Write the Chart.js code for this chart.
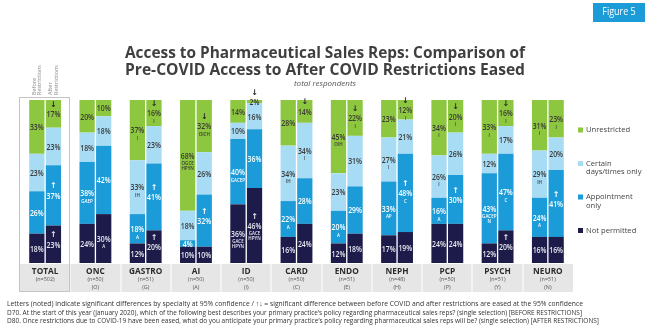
<!DOCTYPE html>
<html>
<head>
<meta charset="utf-8">
<script src="https://cdn.jsdelivr.net/npm/chart.js@4.4.1/dist/chart.umd.min.js"></script>
<style>
  html, body { margin: 0; padding: 0; background: #fff; }
  #wrap { width: 650px; height: 334px; position: relative; }
</style>
</head>
<body>
<div id="wrap"><canvas id="chart" width="650" height="334"></canvas></div>
<script>
const categories = ["TOTAL", "ONC", "GASTRO", "AI", "ID", "CARD", "ENDO", "NEPH", "PCP", "PSYCH", "NEURO"];
const sampleSizes = ["(n=502)", "(n=50)", "(n=51)", "(n=50)", "(n=50)", "(n=50)", "(n=51)", "(n=48)", "(n=50)", "(n=51)", "(n=51)"];
const specialtyCodes = ["", "(O)", "(G)", "(A)", "(I)", "(C)", "(E)", "(H)", "(P)", "(Y)", "(N)"];

// Before restrictions (January 2020), % of respondents
const beforeNotPermitted = [18, 24, 12, 10, 36, 16, 12, 17, 24, 12, 16];
const beforeAppointment = [26, 38, 18, 4, 40, 22, 20, 33, 16, 43, 24];
const beforeCertain = [23, 18, 33, 18, 10, 34, 23, 27, 26, 12, 29];
const beforeUnrestricted = [33, 20, 37, 68, 14, 28, 45, 23, 34, 33, 31];

// After restrictions are eased
const afterNotPermitted = [23, 30, 20, 10, 46, 24, 18, 19, 24, 20, 16];
const afterAppointment = [37, 42, 41, 32, 36, 28, 29, 48, 30, 47, 41];
const afterCertain = [23, 18, 23, 26, 16, 34, 31, 21, 26, 17, 20];
const afterUnrestricted = [17, 10, 16, 32, 2, 14, 22, 12, 20, 16, 23];

// significance letters under each value
const beforeNotPermittedNotes = ["", "", "", "", "GACE\nHPYN", "", "", "", "", "", ""];
const beforeAppointmentNotes = ["", "GAEP", "A", "", "GACEP", "A", "A", "AP", "A", "GACEP\nN", "A"];
const beforeCertainNotes = ["", "", "IH", "", "", "IH", "", "I", "I", "", "IH"];
const beforeUnrestrictedNotes = ["", "", "I", "OGCE\nHPYN", "", "", "OIH", "", "I", "I", "I"];
const afterNotPermittedNotes = ["", "A", "", "", "GACE\nHPYN", "", "", "", "", "", ""];
const afterAppointmentNotes = ["", "", "", "", "", "", "", "C", "", "C", ""];
const afterCertainNotes = ["", "", "", "", "", "I", "", "", "", "", ""];
const afterUnrestrictedNotes = ["", "", "I", "OICH", "", "", "I", "I", "I", "I", "I"];

// before -> after significant change
const afterNotPermittedChange = ["up", "", "up", "", "up", "", "", "", "", "up", ""];
const afterAppointmentChange = ["up", "", "up", "up", "", "", "", "up", "up", "", "up"];
const afterUnrestrictedChange = ["down", "", "down", "down", "down", "down", "down", "down", "down", "down", ""];

const legendItems = [
  { text: ["Unrestricted"], color: "#8dc63f" },
  { text: ["Certain", "days/times only"], color: "#a8dcf4" },
  { text: ["Appointment", "only"], color: "#1b9bd7" },
  { text: ["Not permitted"], color: "#1d1b4a" },
];

const footnotes = [
  "Letters (noted) indicate significant differences by specialty at 95% confidence / \u2191\u2193 = significant difference between before COVID and after restrictions are eased at the 95% confidence",
  "D70. At the start of this year (January 2020), which of the following best describes your primary practice\u2019s policy regarding pharmaceutical sales reps? (single selection) [BEFORE RESTRICTIONS]",
  "D80. Once restrictions due to COVID-19 have been eased, what do you anticipate your primary practice\u2019s policy regarding pharmaceutical sales reps will be? (single selection) [AFTER RESTRICTIONS]",
];

const none = categories.map(() => "");

function series(label, data, stack, color, textColor, notes, change) {
  return {
    label, data, stack,
    backgroundColor: color,
    borderWidth: 0,
    textColor,
    notes,
    change: change || none,
  };
}

const datasets = [
  series("Not permitted", beforeNotPermitted, "before", "#1d1b4a", "#e8e8f0", beforeNotPermittedNotes),
  series("Appointment only", beforeAppointment, "before", "#1b9bd7", "#ffffff", beforeAppointmentNotes),
  series("Certain days/times only", beforeCertain, "before", "#a8dcf4", "#3a3a3a", beforeCertainNotes),
  series("Unrestricted", beforeUnrestricted, "before", "#8dc63f", "#3a3a3a", beforeUnrestrictedNotes),
  series("Not permitted", afterNotPermitted, "after", "#1d1b4a", "#e8e8f0", afterNotPermittedNotes, afterNotPermittedChange),
  series("Appointment only", afterAppointment, "after", "#1b9bd7", "#ffffff", afterAppointmentNotes, afterAppointmentChange),
  series("Certain days/times only", afterCertain, "after", "#a8dcf4", "#3a3a3a", afterCertainNotes),
  series("Unrestricted", afterUnrestricted, "after", "#8dc63f", "#3a3a3a", afterUnrestrictedNotes, afterUnrestrictedChange),
];

function squeezeText(ctx, text, x, y, factor) {
  const w = ctx.measureText(text).width;
  ctx.fillText(text, x, y, w * factor);
}

// title, badge, category band, legend and footnotes
const frame = {
  id: "frame",
  beforeDatasetsDraw(chart) {
    const ctx = chart.ctx;
    const area = chart.chartArea;
    const x = chart.scales.x;
    ctx.save();

    // figure badge
    ctx.fillStyle = "#1b9bd7";
    ctx.fillRect(593, 3, 52, 19);
    ctx.fillStyle = "#ffffff";
    ctx.font = "10px 'Open Sans'";
    ctx.textAlign = "center";
    ctx.textBaseline = "middle";
    squeezeText(ctx, "Figure 5", 619, 12.5, 0.9);

    // title
    ctx.fillStyle = "#3f3f3f";
    ctx.font = "bold 16px 'Open Sans'";
    ctx.textBaseline = "alphabetic";
    ctx.fillText("Access to Pharmaceutical Sales Reps: Comparison of", 325, 58, 400);
    ctx.fillText("Pre-COVID Access to After COVID Restrictions Eased", 325, 75, 400);
    ctx.fillStyle = "#555";
    ctx.font = "italic 8px 'Open Sans'";
    ctx.fillText("total respondents", 325, 86);

    // category band
    const step = (area.right - area.left) / categories.length;
    ctx.fillStyle = "#e6e6e6";
    ctx.fillRect(area.left, area.bottom + 1, area.right - area.left, 28);
    ctx.fillStyle = "#ffffff";
    for (let i = 1; i < categories.length; i++) {
      ctx.fillRect(Math.round(area.left + i * step) - 0.5, area.bottom + 1, 1, 28);
    }
    categories.forEach((name, i) => {
      const cx = x.getPixelForValue(i);
      ctx.fillStyle = "#2b2b2b";
      ctx.font = "bold 9px 'Open Sans'";
      ctx.textBaseline = "middle";
      squeezeText(ctx, name, cx, area.bottom + 8, 0.92);
      ctx.fillStyle = "#555";
      ctx.font = "6px 'Open Sans'";
      squeezeText(ctx, sampleSizes[i], cx, area.bottom + 16.5, 0.9);
      if (specialtyCodes[i]) squeezeText(ctx, specialtyCodes[i], cx, area.bottom + 24, 0.9);
    });

    // box around the total column
    ctx.strokeStyle = "#c4c4c4";
    ctx.lineWidth = 1;
    ctx.strokeRect(Math.round(area.left) - 0.5, area.top - 2.5, Math.round(step), area.bottom - area.top + 31);

    // before / after headers over the total bars
    const b = chart.getDatasetMeta(0).data[0];
    const a = chart.getDatasetMeta(4).data[0];
    ctx.fillStyle = "#8a8a8a";
    ctx.font = "5.5px 'Open Sans'";
    ctx.textAlign = "left";
    ctx.textBaseline = "middle";
    [[b.x, "Before", "Restrictions"], [a.x, "After", "Restrictions"]].forEach(([bx, l1, l2]) => {
      ctx.save();
      ctx.translate(bx, area.top - 5);
      ctx.rotate(-Math.PI / 2);
      ctx.fillText(l1, 0, -2.8);
      ctx.fillText(l2, 0, 2.8);
      ctx.restore();
    });

    // legend
    ctx.textAlign = "left";
    ctx.font = "8px 'Open Sans'";
    let ly = 130;
    legendItems.forEach((item) => {
      ctx.fillStyle = item.color;
      ctx.fillRect(578, ly - 2.5, 5, 5);
      ctx.fillStyle = "#444";
      item.text.forEach((t, k) => squeezeText(ctx, t, 586, ly + k * 8.5, 0.95));
      ly += 33.5;
    });

    // footnotes
    ctx.fillStyle = "#333";
    ctx.font = "7px 'Open Sans'";
    ctx.textBaseline = "alphabetic";
    const widths = [576, 575, 592];
    footnotes.forEach((t, k) => ctx.fillText(t, 7, 306 + k * 8.5, widths[k]));

    ctx.restore();
  },
};

// percentages, arrows and significance letters inside the bars
const valueLabels = {
  id: "valueLabels",
  afterDatasetsDraw(chart) {
    const ctx = chart.ctx;
    ctx.save();
    ctx.textAlign = "center";
    ctx.textBaseline = "middle";
    chart.data.datasets.forEach((ds, di) => {
      chart.getDatasetMeta(di).data.forEach((bar, i) => {
        const cy = (bar.y + bar.base) / 2 + 1;
        ctx.fillStyle = ds.textColor;
        ctx.font = "600 8px 'Open Sans'";
        squeezeText(ctx, ds.data[i] + "%", bar.x, cy, 0.86);
        const ch = ds.change[i];
        if (ch) {
          ctx.fillStyle = ch === "down" ? "#2a2a2a" : ds.textColor;
          ctx.font = "bold 8px 'DejaVu Sans'";
          ctx.fillText(ch === "up" ? "\u2191" : "\u2193", bar.x, cy - 10);
        }
        const note = ds.notes[i];
        if (note) {
          ctx.fillStyle = ds.textColor;
          ctx.font = "600 4.5px 'Open Sans'";
          note.split("\n").forEach((line, k) => ctx.fillText(line, bar.x, cy + 7.5 + k * 5));
        }
      });
    });
    ctx.restore();
  },
};

new Chart(document.getElementById("chart"), {
  type: "bar",
  data: { labels: categories, datasets },
  options: {
    responsive: false,
    animation: false,
    datasets: {
      bar: { categoryPercentage: 0.66, barPercentage: 0.92 },
    },
    layout: { padding: { left: 20, right: 77, top: 100, bottom: 71 } },
    scales: {
      x: { stacked: true, display: false },
      y: { stacked: true, display: false, min: 0, max: 100 },
    },
    plugins: {
      legend: { display: false },
      tooltip: { enabled: false },
    },
  },
  plugins: [frame, valueLabels],
});
</script>
</body>
</html>
